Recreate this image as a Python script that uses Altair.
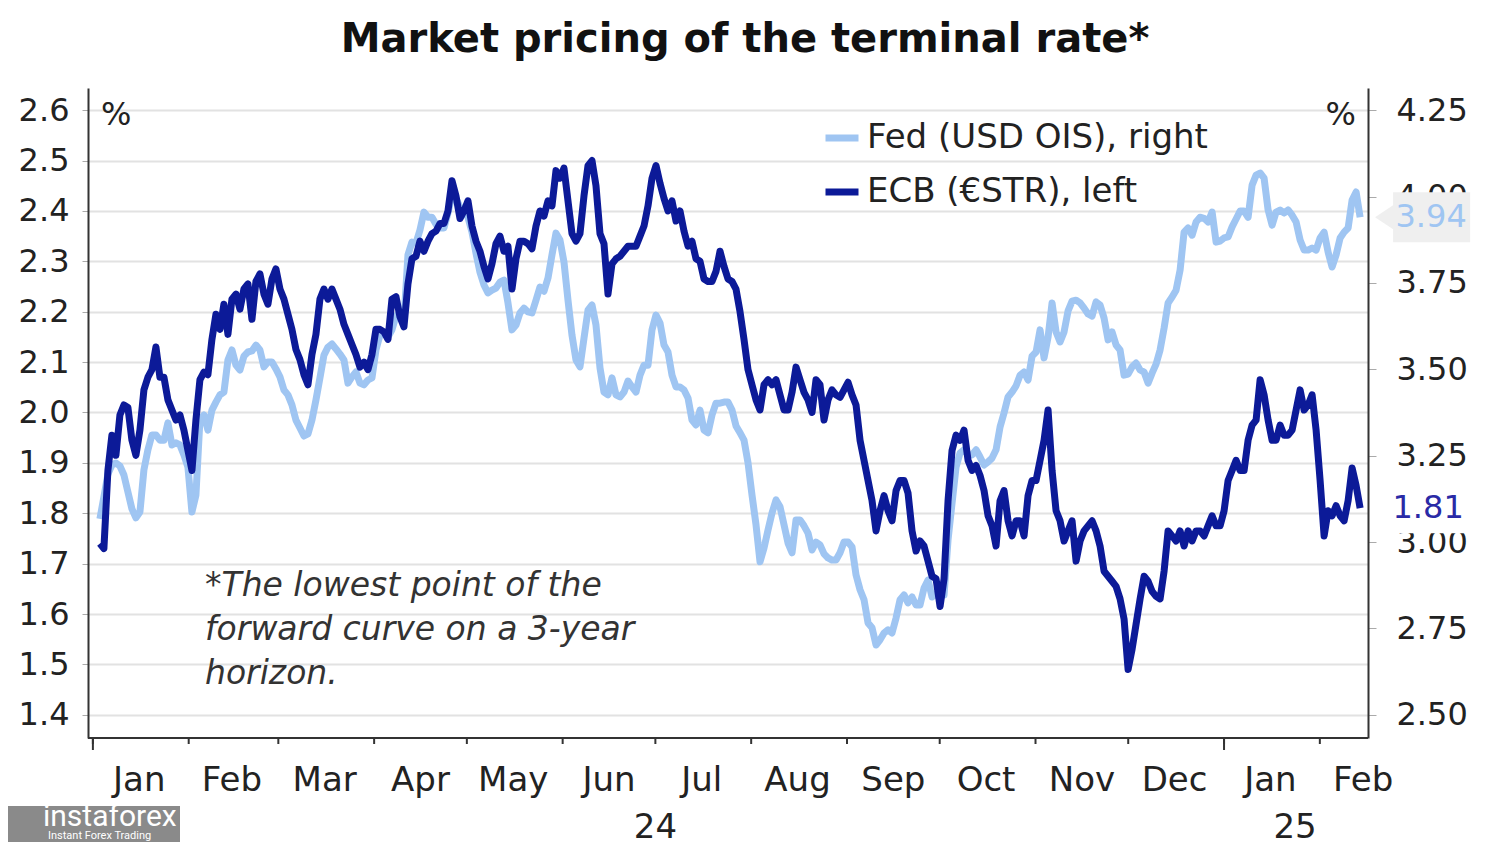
import altair as alt
import pandas as pd

FED_NAME = "Fed (USD OIS), right"
ECB_NAME = "ECB (€STR), left"

# ECB terminal-rate pricing (left axis, %), roughly daily sampling
ecb_values = [
    1.74, 1.73, 1.885, 1.955, 1.915, 1.995, 2.015, 2.01, 1.945, 1.915,
    1.965, 2.045, 2.07, 2.085, 2.13, 2.07, 2.07, 2.025, 2.005, 1.985,
    1.995, 1.965, 1.925, 1.885, 1.985, 2.065, 2.08, 2.075, 2.145, 2.195,
    2.165, 2.215, 2.155, 2.225, 2.235, 2.205, 2.245, 2.255, 2.185, 2.26,
    2.275, 2.235, 2.215, 2.265, 2.285, 2.245, 2.225, 2.195, 2.165, 2.125,
    2.105, 2.075, 2.055, 2.115, 2.155, 2.225, 2.245, 2.225, 2.245, 2.225,
    2.205, 2.175, 2.155, 2.135, 2.115, 2.09, 2.10, 2.085, 2.115, 2.165,
    2.165, 2.16, 2.145, 2.225, 2.23, 2.19, 2.17, 2.255, 2.305, 2.31,
    2.34, 2.32, 2.34, 2.355, 2.36, 2.375, 2.375, 2.40, 2.46, 2.43,
    2.385, 2.40, 2.42, 2.37, 2.34, 2.32, 2.29, 2.265, 2.295, 2.335,
    2.35, 2.32, 2.33, 2.245, 2.305, 2.34, 2.34, 2.335, 2.325, 2.37,
    2.40, 2.39, 2.42, 2.41, 2.48, 2.465, 2.485, 2.42, 2.355, 2.34,
    2.355, 2.43, 2.49, 2.50, 2.45, 2.355, 2.335, 2.235, 2.295, 2.305,
    2.31, 2.32, 2.33, 2.33, 2.33, 2.35, 2.37, 2.41, 2.465, 2.49,
    2.455, 2.425, 2.40, 2.42, 2.38, 2.40, 2.36, 2.33, 2.34, 2.305,
    2.30, 2.265, 2.26, 2.26, 2.28, 2.32, 2.29, 2.265, 2.26, 2.245,
    2.20, 2.145, 2.085, 2.055, 2.025, 2.005, 2.055, 2.065, 2.055, 2.065,
    2.035, 2.005, 2.005, 2.04, 2.09, 2.065, 2.04, 2.025, 2.00, 2.065,
    2.055, 1.985, 2.025, 2.045, 2.035, 2.03, 2.045, 2.06, 2.035, 2.015,
    1.945, 1.905, 1.865, 1.825, 1.765, 1.805, 1.835, 1.805, 1.785, 1.845,
    1.865, 1.865, 1.84, 1.765, 1.725, 1.745, 1.735, 1.705, 1.675, 1.67,
    1.615, 1.67, 1.825, 1.925, 1.955, 1.945, 1.965, 1.905, 1.885, 1.895,
    1.875, 1.845, 1.795, 1.775, 1.735, 1.825, 1.845, 1.785, 1.755, 1.785,
    1.785, 1.755, 1.835, 1.865, 1.865, 1.905, 1.945, 2.005, 1.885, 1.805,
    1.785, 1.745, 1.765, 1.785, 1.705, 1.745, 1.765, 1.775, 1.785, 1.765,
    1.735, 1.685, 1.675, 1.665, 1.655, 1.63, 1.59, 1.49, 1.53, 1.58,
    1.63, 1.675, 1.665, 1.645, 1.635, 1.63, 1.685, 1.765, 1.755, 1.745,
    1.765, 1.735, 1.765, 1.745, 1.765, 1.765, 1.755, 1.775, 1.795, 1.775,
    1.775, 1.805, 1.865, 1.885, 1.905, 1.885, 1.885, 1.945, 1.975, 1.985,
    2.065, 2.035, 1.985, 1.945, 1.945, 1.975, 1.955, 1.955, 1.965, 2.005,
    2.045, 2.005, 2.015, 2.035, 1.965, 1.865, 1.755, 1.805, 1.795, 1.815,
    1.795, 1.785, 1.825, 1.89, 1.855, 1.81,
]

# Fed terminal-rate pricing (right axis, %)
fed_values = [
    3.067, 3.131, 3.197, 3.223, 3.229, 3.22, 3.194, 3.145, 3.096, 3.07,
    3.087, 3.209, 3.267, 3.31, 3.31, 3.295, 3.295, 3.345, 3.281, 3.287,
    3.281, 3.252, 3.217, 3.087, 3.136, 3.353, 3.368, 3.324, 3.382, 3.405,
    3.426, 3.434, 3.527, 3.556, 3.512, 3.498, 3.538, 3.55, 3.553, 3.57,
    3.556, 3.507, 3.521, 3.521, 3.501, 3.478, 3.44, 3.426, 3.397, 3.353,
    3.33, 3.307, 3.313, 3.353, 3.411, 3.475, 3.541, 3.564, 3.573, 3.559,
    3.544, 3.527, 3.46, 3.478, 3.492, 3.46, 3.455, 3.469, 3.475, 3.556,
    3.599, 3.605, 3.593, 3.614, 3.654, 3.666, 3.643, 3.831, 3.868, 3.865,
    3.903, 3.955, 3.94, 3.94, 3.92, 3.909, 3.909, 3.952, 4.004, 3.995,
    3.969, 3.958, 3.94, 3.897, 3.836, 3.781, 3.744, 3.721, 3.729, 3.735,
    3.752, 3.758, 3.692, 3.614, 3.628, 3.663, 3.677, 3.666, 3.663, 3.70,
    3.738, 3.726, 3.764, 3.831, 3.894, 3.874, 3.81, 3.70, 3.599, 3.527,
    3.507, 3.59, 3.671, 3.686, 3.628, 3.504, 3.434, 3.426, 3.475, 3.426,
    3.42, 3.434, 3.466, 3.449, 3.434, 3.483, 3.512, 3.512, 3.614, 3.657,
    3.634, 3.57, 3.55, 3.483, 3.449, 3.449, 3.44, 3.417, 3.353, 3.339,
    3.382, 3.324, 3.316, 3.368, 3.402, 3.402, 3.405, 3.405, 3.382, 3.336,
    3.316, 3.295, 3.229, 3.136, 3.05, 2.943, 2.983, 3.035, 3.084, 3.122,
    3.102, 3.05, 2.997, 2.969, 3.064, 3.064, 3.047, 3.026, 2.977, 3.0,
    2.992, 2.966, 2.954, 2.948, 2.948, 2.969, 3.0, 3.0, 2.986, 2.905,
    2.862, 2.833, 2.766, 2.752, 2.702, 2.717, 2.737, 2.746, 2.737, 2.78,
    2.833, 2.847, 2.824, 2.841, 2.818, 2.818, 2.867, 2.89, 2.841, 2.85,
    2.847, 2.847, 3.006, 3.113, 3.217, 3.258, 3.267, 3.252, 3.252, 3.267,
    3.246, 3.223, 3.232, 3.243, 3.267, 3.333, 3.374, 3.42, 3.434, 3.452,
    3.483, 3.492, 3.469, 3.538, 3.55, 3.614, 3.533, 3.593, 3.692, 3.608,
    3.579, 3.608, 3.669, 3.697, 3.70, 3.692, 3.677, 3.66, 3.654, 3.695,
    3.686, 3.648, 3.585, 3.608, 3.57, 3.556, 3.483, 3.486, 3.507, 3.518,
    3.498, 3.492, 3.46, 3.489, 3.515, 3.556, 3.619, 3.692, 3.709, 3.729,
    3.787, 3.897, 3.909, 3.888, 3.926, 3.94, 3.937, 3.926, 3.955, 3.868,
    3.871, 3.88, 3.883, 3.912, 3.935, 3.958, 3.958, 3.94, 4.033, 4.062,
    4.068, 4.053, 3.961, 3.917, 3.955, 3.961, 3.952, 3.961, 3.946, 3.926,
    3.874, 3.845, 3.845, 3.851, 3.845, 3.88, 3.897, 3.839, 3.796, 3.831,
    3.88, 3.897, 3.909, 3.99, 4.013, 3.94,
]

first_obs = "2024-01-03 06:30"
last_obs = "2025-02-14 00:45"

month_labels = ["Jan", "Feb", "Mar", "Apr", "May", "Jun", "Jul", "Aug",
                "Sep", "Oct", "Nov", "Dec", "Jan", "Feb"]
month_label_dates = ["2024-01-16", "2024-02-15", "2024-03-16", "2024-04-16",
                     "2024-05-16", "2024-06-16", "2024-07-16", "2024-08-16",
                     "2024-09-16", "2024-10-16", "2024-11-16", "2024-12-16",
                     "2025-01-16", "2025-02-15"]
month_start_dates = ["2024-01-01", "2024-02-01", "2024-03-01", "2024-04-01",
                     "2024-05-01", "2024-06-01", "2024-07-01", "2024-08-01",
                     "2024-09-01", "2024-10-01", "2024-11-01", "2024-12-01",
                     "2025-01-01", "2025-02-01"]
year_labels = ["24", "25"]
year_label_dates = ["2024-07-01", "2025-01-24"]
year_start_dates = ["2024-01-01", "2025-01-01"]
left_ticks = [1.4, 1.5, 1.6, 1.7, 1.8, 1.9, 2.0, 2.1, 2.2, 2.3, 2.4, 2.5, 2.6]
right_ticks = [2.5, 2.75, 3.0, 3.25, 3.5, 3.75, 4.0, 4.25]
note_lines = ["*The lowest point of the", "forward curve on a 3-year", "horizon."]
title_text = "Market pricing of the terminal rate*"

FONT = "DejaVu Sans"
FED_COLOR = "#9fc5f2"
ECB_COLOR = "#0c1a98"
TXT = "#222222"
AXIS_COLOR = "#333333"


def make_dates(n):
    return list(pd.date_range(first_obs, last_obs, periods=n).strftime("%Y-%m-%dT%H:%M:%S"))


def as_ts(days):
    return [d + "T00:00:00" for d in days]


fed_df = pd.DataFrame({"date": make_dates(len(fed_values)), "value": fed_values, "series": FED_NAME})
ecb_df = pd.DataFrame({"date": make_dates(len(ecb_values)), "value": ecb_values, "series": ECB_NAME})
fed_last = fed_df.tail(1).assign(label=lambda d: d["value"].map(lambda v: f"{v:.2f}"))
ecb_last = ecb_df.tail(1).assign(label=lambda d: d["value"].map(lambda v: f"{v:.2f}"))

months_df = pd.DataFrame({"date": as_ts(month_label_dates), "label": month_labels})
years_df = pd.DataFrame({"date": as_ts(year_label_dates), "label": year_labels})
month_ticks_df = pd.DataFrame({"date": as_ts(month_start_dates)})
year_ticks_df = pd.DataFrame({"date": as_ts(year_start_dates)})

x_start, x_end = "2023-12-30T10:00:00", "2025-02-16T14:00:00"
x_scale = alt.Scale(domain=[x_start, x_end])
left_scale = alt.Scale(domain=[1.354, 2.644], nice=False, zero=False)
right_scale = alt.Scale(domain=[2.433, 4.314], nice=False, zero=False)
color_scale = alt.Scale(domain=[FED_NAME, ECB_NAME], range=[FED_COLOR, ECB_COLOR])

left_axis = alt.Axis(orient="left", values=left_ticks, format=".1f", title=None,
                     labelFont=FONT, labelFontSize=32, labelColor=TXT, labelPadding=13,
                     grid=True, gridColor="#e2e2e2", gridWidth=2,
                     domainColor=AXIS_COLOR, domainWidth=2, tickColor="#aaaaaa", tickSize=6)
right_axis = alt.Axis(orient="right", values=right_ticks, format=".2f", title=None,
                      labelFont=FONT, labelFontSize=32, labelColor=TXT, labelPadding=20,
                      grid=False, domainColor=AXIS_COLOR, domainWidth=2,
                      tickColor="#aaaaaa", tickSize=8)

legend = alt.Legend(orient="none", legendX=734, legendY=30, title=None, direction="vertical",
                    symbolType="stroke", symbolSize=1089, symbolStrokeWidth=7,
                    labelFont=FONT, labelFontSize=34, labelColor=TXT, labelOffset=5,
                    rowPadding=17, padding=0, labelLimit=600)

box_path = "M0.13,0 L0.287,-0.104 L0.287,-0.217 L0.957,-0.217 L0.957,0.217 L0.287,0.217 L0.287,0.104 Z"

x_plain = alt.X("date:T", scale=x_scale, axis=None)

fed_line = alt.Chart(fed_df).mark_line(strokeWidth=7, strokeJoin="round").encode(
    x=x_plain,
    y=alt.Y("value:Q", scale=right_scale, axis=right_axis),
    color=alt.Color("series:N", scale=color_scale, legend=legend),
)
ecb_line = alt.Chart(ecb_df).mark_line(strokeWidth=7, strokeJoin="round").encode(
    x=x_plain,
    y=alt.Y("value:Q", scale=left_scale, axis=left_axis),
    color=alt.Color("series:N", scale=color_scale, legend=legend),
)
fed_box = alt.Chart(fed_last).mark_point(shape=box_path, size=52900, filled=True,
                                         color="#efefef", opacity=1, strokeWidth=0).encode(
    x=x_plain, y=alt.Y("value:Q", scale=right_scale, axis=None))
fed_text = alt.Chart(fed_last).mark_text(dx=71, align="center", baseline="middle", font=FONT,
                                         fontSize=32, color=FED_COLOR).encode(
    x=x_plain, y=alt.Y("value:Q", scale=right_scale, axis=None), text="label:N")
ecb_box = alt.Chart(ecb_last).mark_point(shape=box_path, size=52900, filled=True,
                                         color="#ffffff", opacity=1, strokeWidth=0).encode(
    x=x_plain, y=alt.Y("value:Q", scale=left_scale, axis=None))
ecb_text = alt.Chart(ecb_last).mark_text(dx=68, align="center", baseline="middle", font=FONT,
                                         fontSize=32, color="#2a2aa6").encode(
    x=x_plain, y=alt.Y("value:Q", scale=left_scale, axis=None), text="label:N")

# time axis: baseline along the bottom plus month-start ticks (longer at year starts)
one = pd.DataFrame({"start": [x_start], "end": [x_end]})
x_baseline = alt.Chart(one).mark_rule(color=AXIS_COLOR, strokeWidth=2).encode(
    x=alt.X("start:T", scale=x_scale, axis=None), x2="end:T", y=alt.value(650))
month_ticks = alt.Chart(month_ticks_df).mark_rule(color=AXIS_COLOR, strokeWidth=2).encode(
    x=x_plain, y=alt.value(650), y2=alt.value(656))
year_ticks = alt.Chart(year_ticks_df).mark_rule(color=AXIS_COLOR, strokeWidth=2).encode(
    x=x_plain, y=alt.value(650), y2=alt.value(662))

month_text = alt.Chart(months_df).mark_text(align="center", baseline="alphabetic", font=FONT,
                                            fontSize=34, color=TXT).encode(
    x=x_plain, y=alt.value(703), text="label:N")
year_text = alt.Chart(years_df).mark_text(align="center", baseline="alphabetic", font=FONT,
                                          fontSize=34, color=TXT).encode(
    x=x_plain, y=alt.value(750), text="label:N")

title = alt.Chart(one).mark_text(text=title_text, align="center", baseline="alphabetic", font=FONT,
                                 fontSize=40, fontWeight="bold", color="#111111").encode(
    x=alt.value(657), y=alt.value(-36))
pct_left = alt.Chart(one).mark_text(text="%", align="left", baseline="alphabetic", font=FONT,
                                    fontSize=32, color=TXT).encode(x=alt.value(13), y=alt.value(37))
pct_right = alt.Chart(one).mark_text(text="%", align="right", baseline="alphabetic", font=FONT,
                                     fontSize=32, color=TXT).encode(x=alt.value(1268), y=alt.value(37))
note = alt.Chart(one).mark_text(text=note_lines, align="left", baseline="alphabetic", font=FONT,
                                fontSize=33, fontStyle="italic", lineHeight=44,
                                color="#333333").encode(x=alt.value(117), y=alt.value(508))

wm_box = alt.Chart(one).mark_rect(color="#8a8a8a").encode(
    x=alt.value(-80), x2=alt.value(92), y=alt.value(718), y2=alt.value(754))
wm_big = alt.Chart(one).mark_text(text="instaforex", align="left", baseline="alphabetic",
                                  font="Roboto", fontSize=30, color="#ffffff").encode(
    x=alt.value(-45), y=alt.value(738))
wm_small = alt.Chart(one).mark_text(text="Instant Forex Trading", align="left", baseline="alphabetic",
                                    font="Roboto", fontSize=11, color="#ffffff").encode(
    x=alt.value(-40), y=alt.value(751))

chart = alt.layer(
    fed_line, ecb_line, fed_box, fed_text, ecb_box, ecb_text, x_baseline, month_ticks, year_ticks,
    month_text, year_text, title, pct_left, pct_right, note, wm_box, wm_big, wm_small,
).resolve_scale(y="independent").properties(
    width=1280, height=650,
    padding={"left": 80, "top": 80, "right": 116, "bottom": 104},
    autosize=alt.AutoSizeParams(type="none"),
    background="#ffffff",
).configure_view(strokeWidth=0)

chart.save("out.html", embed_options={"renderer": "svg", "actions": False})
